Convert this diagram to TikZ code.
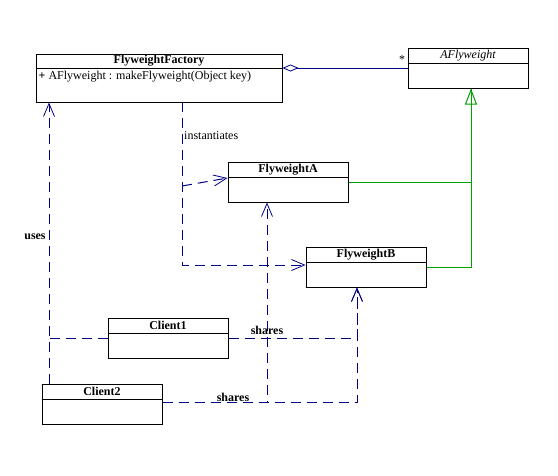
\documentclass[tikz,border=0pt]{standalone}
\usepackage{fontspec}
\setmainfont{Liberation Serif}
\usetikzlibrary{arrows.meta}
\definecolor{umlnavy}{RGB}{0,0,128}
\definecolor{umlgreen}{RGB}{0,160,0}
\tikzset{
  cls/.style={draw, line width=1pt, inner sep=0pt},
  title/.style={font=\fontsize{12}{14}\selectfont\bfseries, inner sep=1pt},
  dep/.style={umlnavy, line width=1pt, dash pattern=on 10pt off 6pt,
    -{Straight Barb[length=13pt,width=11pt,line width=0.8pt]}},
  assoc/.style={umlnavy, dash pattern=on 10pt off 6pt, line width=1pt},
  gen/.style={umlgreen, line width=1pt},
  lbl/.style={font=\fontsize{12}{14}\selectfont\bfseries, inner sep=1pt}
}
\begin{document}
\begin{tikzpicture}[x=1pt,y=-1pt]
    \useasboundingbox (0,0) rectangle (558,475);

    % classes
    \node[cls, minimum width=246pt, minimum height=48pt] (factory) at (159,78) {};
    \draw[line width=1pt] ([yshift=-15pt]factory.north west) -- ([yshift=-15pt]factory.north east);
    \node[title] at ([yshift=-7.5pt]factory.north) {FlyweightFactory};
    \node[anchor=north west, inner sep=1pt, font=\fontsize{12}{14}\selectfont]
      at ([xshift=2pt,yshift=-16pt]factory.north west) {\textbf{+} AFlyweight : makeFlyweight(Object key)};

    \node[cls, minimum width=120pt, minimum height=40pt] (afly) at (468,68) {};
    \draw[line width=1pt] ([yshift=-16pt]afly.north west) -- ([yshift=-16pt]afly.north east);
    \node[title, font=\fontsize{12}{14}\selectfont\itshape] at ([yshift=-8pt]afly.north) {AFlyweight};

    \node[cls, minimum width=120pt, minimum height=40pt] (flyA) at (288,182) {};
    \draw[line width=1pt] ([yshift=-16pt]flyA.north west) -- ([yshift=-16pt]flyA.north east);
    \node[title] at ([yshift=-8pt]flyA.north) {FlyweightA};

    \node[cls, minimum width=120pt, minimum height=40pt] (flyB) at (366,267) {};
    \draw[line width=1pt] ([yshift=-16pt]flyB.north west) -- ([yshift=-16pt]flyB.north east);
    \node[title] at ([yshift=-8pt]flyB.north) {FlyweightB};

    \node[cls, minimum width=120pt, minimum height=40pt] (client1) at (168,338) {};
    \draw[line width=1pt] ([yshift=-16pt]client1.north west) -- ([yshift=-16pt]client1.north east);
    \node[title] at ([yshift=-8pt]client1.north) {Client1};

    \node[cls, minimum width=120pt, minimum height=40pt] (client2) at (102,404) {};
    \draw[line width=1pt] ([yshift=-16pt]client2.north west) -- ([yshift=-16pt]client2.north east);
    \node[title] at ([yshift=-8pt]client2.north) {Client2};

    % aggregation
    \draw[umlnavy, line width=1pt, {Diamond[open,length=16pt,width=7pt,line width=0.8pt]}-]
      (afly.west -| factory.east) -- (afly.west);
    \node[font=\fontsize{12}{14}\selectfont] (star) at (402,60) {*};

    % generalization
    \draw[gen, -{Triangle[open,length=16pt,width=12pt,line width=1pt]}] (flyA.east) -| ([xshift=3pt]afly.south);
    \draw[gen] (flyB.east) -| ([xshift=3pt]afly.south);

    % instantiates
    \coordinate (inst) at (182,102);
    \draw[dep] (inst) |- ([yshift=2pt]flyB.west);
    \draw[dep] (inst |- flyA.west) ++(0,4) -- ([yshift=4pt]flyA.west);
    \node[anchor=west, inner sep=1pt, font=\fontsize{12}{14}\selectfont] (instlbl) at (183,136) {instantiates};

    % uses
    \coordinate (usesend) at (49,384);
    \draw[dep] (usesend) -- (usesend |- factory.south);
    \draw[assoc] (client1.west) -- (client1.west -| usesend);
    \node[lbl] (useslbl) at (35,237) {uses};

    % shares
    \coordinate (sharesA) at ([xshift=-21pt]flyA.south);
    \coordinate (sharesB) at ([xshift=-9pt]flyB.south);
    \draw[dep] (client1.east) -| (sharesB);
    \draw[dep] ([yshift=2pt]client2.east) -| (sharesB);
    \draw[dep] ([yshift=2pt]client2.east) -| (sharesA);
    \node[lbl] (shares1) at (267,330) {shares};
    \node[lbl] (shares2) at (233,397) {shares};
\end{tikzpicture}
\end{document}
